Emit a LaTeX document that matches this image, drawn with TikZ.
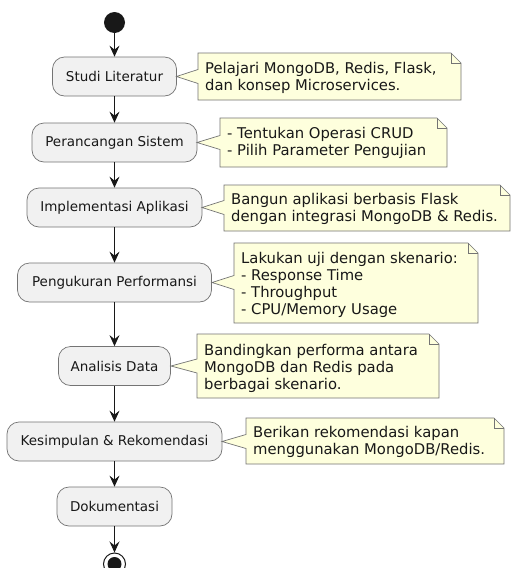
\documentclass[tikz,border=0pt]{standalone}
\usepackage{fontspec}
\setmainfont{DejaVu Sans}
\usetikzlibrary{arrows.meta}
\definecolor{actfill}{HTML}{F1F1F1}
\definecolor{notefill}{HTML}{FEFFDD}
\definecolor{ink}{HTML}{181818}
\tikzset{
  act/.style={draw=ink!60, line width=0.7pt, fill=actfill, rounded corners=12pt,
    minimum height=39pt, inner sep=0pt, font=\fontsize{13.5}{16.5}\selectfont, text=ink},
  flow/.style={draw=ink, line width=1pt, -{Stealth[length=11pt,width=10pt,inset=4pt]}},
  notetext/.style={anchor=base west, inner sep=0pt, align=left,
    font=\fontsize{14.8}{17}\selectfont, text=ink},
  noteshape/.style={draw=ink!60, line width=0.7pt, fill=notefill, line join=miter},
}
% #1 x1, #2 y1, #3 x2, #4 y2, #5 tip x, #6 tip y
\newcommand{\mynote}[6]{%
  \draw[noteshape] (#1,#2) -- (#3-10,#2) -- (#3,#2+10) -- (#3,#4) -- (#1,#4)
     -- (#1,#6+7) -- (#5,#6) -- (#1,#6-7) -- cycle;
  \draw[noteshape, fill=none] (#3-10,#2) -- (#3-10,#2+10) -- (#3,#2+10);
}
\begin{document}
\begin{tikzpicture}[x=1pt,y=-1pt]
\useasboundingbox[fill=white] (0,0) rectangle (512,568);

\node[circle, fill=ink, minimum size=21pt, inner sep=0pt] (start) at (114.5,22.5) {};

\node[act, minimum width=124pt] (a1) at (114.5,76.5) {Studi Literatur};
\node[act, minimum width=165pt] (a2) at (114.5,142.5) {Perancangan Sistem};
\node[act, minimum width=175pt] (a3) at (114.5,207.5) {Implementasi Aplikasi};
\node[act, minimum width=194pt] (a4) at (114.5,282.5) {Pengukuran Performansi};
\node[act, minimum width=112pt] (a5) at (114.5,366) {Analisis Data};
\node[act, minimum width=215pt] (a6) at (114.5,441.5) {Kesimpulan \& Rekomendasi};
\node[act, minimum width=115pt] (a7) at (114.5,506.5) {Dokumentasi};

\node[circle, draw=ink, line width=1pt, fill=white, minimum size=22pt, inner sep=0pt] (stop) at (114.5,564) {};
\node[circle, fill=ink, minimum size=14pt, inner sep=0pt] (stopin) at (stop.center) {};

\draw[flow] (start) -- (a1);
\draw[flow] (a1) -- (a2);
\draw[flow] (a2) -- (a3);
\draw[flow] (a3) -- (a4);
\draw[flow] (a4) -- (a5);
\draw[flow] (a5) -- (a6);
\draw[flow] (a6) -- (a7);
\draw[flow] (a7) -- (stop);

% text anchors are on the baseline of the LAST line
\mynote{198}{53}{461}{100}{176.5}{76.5}
\node[notetext] (n1) at (205,90) {Pelajari MongoDB, Redis, Flask,\\dan konsep Microservices.};

\mynote{220}{118}{447}{167}{197}{142.5}
\node[notetext] (n2) at (227,155) {- Tentukan Operasi CRUD\\- Pilih Parameter Pengujian};

\mynote{224}{185}{510}{231}{202}{207.5}
\node[notetext] (n3) at (231,221.5) {Bangun aplikasi berbasis Flask\\dengan integrasi MongoDB \& Redis.};

\mynote{234}{243}{478}{323}{212}{282.5}
\node[notetext] (n4) at (241,314) {Lakukan uji dengan skenario:\\- Response Time\\- Throughput\\- CPU/Memory Usage};

\mynote{197}{334}{439}{398}{171}{366}
\node[notetext] (n5) at (204,389) {Bandingkan performa antara\\MongoDB dan Redis pada\\berbagai skenario.};

\mynote{246}{418}{504}{464}{222}{441.5}
\node[notetext] (n6) at (253,454.5) {Berikan rekomendasi kapan\\menggunakan MongoDB/Redis.};
\end{tikzpicture}
\end{document}
